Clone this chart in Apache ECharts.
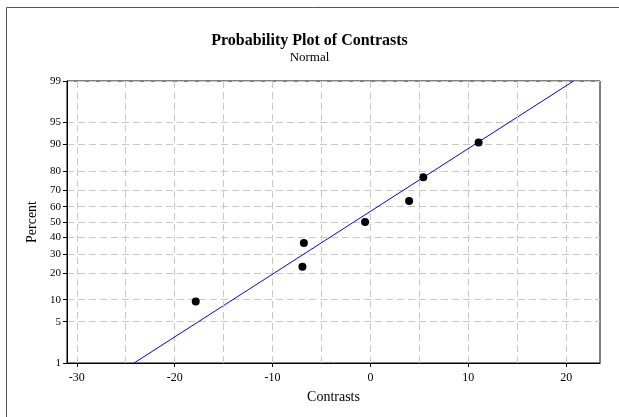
<!DOCTYPE html>
<html>
<head>
<meta charset="utf-8">
<script src="https://cdn.jsdelivr.net/npm/echarts@6/dist/echarts.min.js"></script>
<style>
html,body{margin:0;padding:0;background:#fff;}
#chart{width:619px;height:417px;}
</style>
</head>
<body>
<div id="chart"></div>
<script>
// ---- data ----
var contrasts = [-17.85, -6.95, -6.8, -0.55, 3.95, 5.4, 11.05];
var percents = [9.46, 22.97, 36.49, 50, 63.51, 77.03, 90.54];
var fitLineX = [-24.15, 20.75];
var fitLinePct = [1, 99];
var percentTicks = [1, 5, 10, 20, 30, 40, 50, 60, 70, 80, 90, 95, 99];
var xLabelTicks = [-30, -20, -10, 0, 10, 20];
var xMidGrid = [-25, -15, -5, 5, 15];

// inverse standard normal CDF (Acklam)
function probit(p) {
  var a = [-3.969683028665376e+01, 2.209460984245205e+02, -2.759285104469687e+02, 1.383577518672690e+02, -3.066479806614716e+01, 2.506628277459239e+00];
  var b = [-5.447609879822406e+01, 1.615858368580409e+02, -1.556989798598866e+02, 6.680131188771972e+01, -1.328068155288572e+01];
  var c = [-7.784894002430293e-03, -3.223964580411365e-01, -2.400758277161838e+00, -2.549732539343734e+00, 4.374664141464968e+00, 2.938163982698783e+00];
  var d = [7.784695709041462e-03, 3.224671290700398e-01, 2.445134137142996e+00, 3.754408661907416e+00];
  var pl = 0.02425, q, r;
  if (p < pl) {
    q = Math.sqrt(-2 * Math.log(p));
    return (((((c[0]*q+c[1])*q+c[2])*q+c[3])*q+c[4])*q+c[5]) / ((((d[0]*q+d[1])*q+d[2])*q+d[3])*q+1);
  } else if (p <= 1 - pl) {
    q = p - 0.5; r = q * q;
    return (((((a[0]*r+a[1])*r+a[2])*r+a[3])*r+a[4])*r+a[5])*q / (((((b[0]*r+b[1])*r+b[2])*r+b[3])*r+b[4])*r+1);
  } else {
    q = Math.sqrt(-2 * Math.log(1 - p));
    return -(((((c[0]*q+c[1])*q+c[2])*q+c[3])*q+c[4])*q+c[5]) / ((((d[0]*q+d[1])*q+d[2])*q+d[3])*q+1);
  }
}
function z(pct) { return probit(pct / 100); }

var yTickValues = percentTicks.map(z);
var pointData = contrasts.map(function (x, i) { return [x, z(percents[i])]; });
var lineData = fitLineX.map(function (x, i) { return [x, z(fitLinePct[i])]; });

function pctLabel(v) {
  var best = percentTicks[0], bd = Infinity;
  percentTicks.forEach(function (p) { var dd = Math.abs(z(p) - v); if (dd < bd) { bd = dd; best = p; } });
  return String(best);
}

var gridStyle = { color: '#c8c8c8', type: [7, 4], width: 1 };
var font = 'Liberation Serif';
var chart = echarts.init(document.getElementById('chart'), null, { renderer: 'canvas' });
chart.setOption({
  backgroundColor: '#fff',
  animation: false,
  graphic: [{
    type: 'polyline',
    shape: { points: [[6.5, 420], [6.5, 7.5], [622, 7.5]] },
    style: { stroke: '#555', lineWidth: 1, fill: null },
    silent: true
  }],
  title: {
    text: 'Probability Plot of Contrasts',
    subtext: 'Normal',
    left: 'center',
    top: 28,
    itemGap: 2,
    textStyle: { fontFamily: font, fontWeight: 'bold', fontSize: 16, color: '#000' },
    subtextStyle: { fontFamily: font, fontSize: 13, color: '#000' }
  },
  grid: {
    left: 67, top: 81, right: 19, bottom: 54,
    show: true, borderColor: '#000', borderWidth: 1, backgroundColor: 'transparent'
  },
  xAxis: {
    type: 'value',
    min: -31, max: 23.45,
    name: 'Contrasts',
    nameLocation: 'middle',
    nameGap: 27,
    nameTextStyle: { fontFamily: font, fontSize: 14, color: '#000' },
    axisLine: { show: true, onZero: false, lineStyle: { color: '#000', width: 1 } },
    axisTick: { show: true, length: 4, customValues: xLabelTicks, lineStyle: { color: '#000', width: 1 } },
    axisLabel: { customValues: xLabelTicks, fontFamily: font, fontSize: 12, color: '#000', margin: 9 },
    splitLine: { show: true, lineStyle: gridStyle }
  },
  yAxis: {
    type: 'value',
    min: z(1), max: z(99),
    name: 'Percent',
    nameLocation: 'middle',
    nameGap: 25,
    nameRotate: 90,
    nameTextStyle: { fontFamily: font, fontSize: 14, color: '#000' },
    axisLine: { show: true, onZero: false, lineStyle: { color: '#000', width: 1 } },
    axisTick: { show: true, length: 4, customValues: yTickValues, lineStyle: { color: '#000' } },
    axisLabel: { customValues: yTickValues, formatter: pctLabel, fontFamily: font, fontSize: 11, color: '#000', margin: 6 },
    splitLine: { show: true, lineStyle: gridStyle }
  },
  series: [{
    type: 'line',
    data: [],
    z: 1,
    markLine: {
      silent: true,
      symbol: ['none', 'none'],
      label: { show: false },
      lineStyle: gridStyle,
      emphasis: { disabled: true },
      data: xMidGrid.map(function (v) { return { xAxis: v }; })
    }
  }, {
    type: 'line',
    data: lineData,
    symbol: 'none',
    lineStyle: { color: '#0000ff', width: 1 },
    z: 2
  }, {
    type: 'scatter',
    data: pointData,
    symbol: 'circle',
    symbolSize: 8,
    itemStyle: { color: '#000', opacity: 1 },
    z: 3
  }]
});
</script>
</body>
</html>
